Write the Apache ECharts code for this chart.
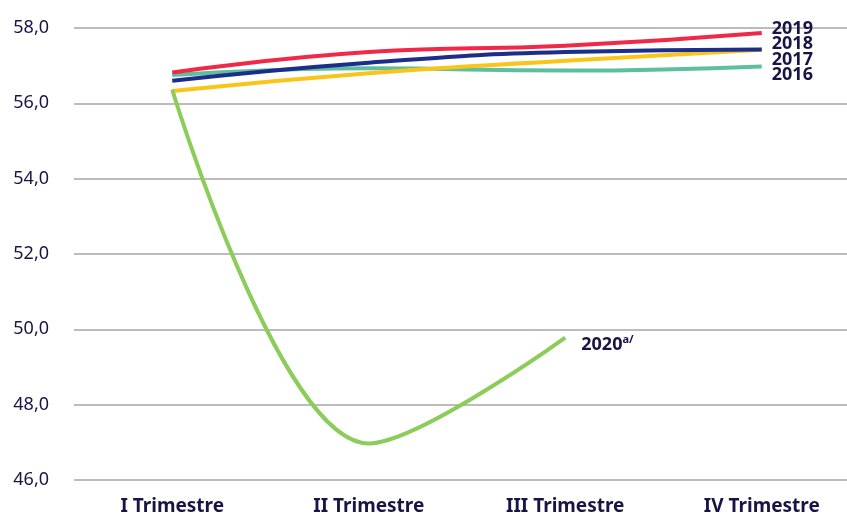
<!DOCTYPE html>
<html>
<head>
<meta charset="utf-8">
<script src="https://cdn.jsdelivr.net/npm/echarts@6/dist/echarts.min.js"></script>
<style>html,body{margin:0;padding:0;background:#fff;overflow:hidden}#c{width:860px;height:516px}</style>
</head>
<body>
<div id="c"></div>
<script>
const categories = ['I Trimestre', 'II Trimestre', 'III Trimestre', 'IV Trimestre'];
const s2016 = [56.75, 56.93, 56.87, 56.98];
const s2017 = [56.33, 56.80, 57.13, 57.42];
const s2018 = [56.60, 57.08, 57.36, 57.43];
const s2019 = [56.82, 57.36, 57.53, 57.87];
const s2020 = [56.36, 46.97, 49.78];
const yTicks = { min: 46, max: 58, interval: 2 };

const txt = '#1a1446';
const font = 'Noto Sans';
function mk(name, data, color, offset, label, smooth) {
  return {
    name: name, type: 'line', data: data, smooth: smooth, symbol: 'none',
    lineStyle: { color: color, width: 4 },
    itemStyle: { color: color },
    endLabel: {
      show: true, formatter: label, color: txt, fontFamily: font,
      fontWeight: 'bold', fontSize: 18, offset: offset, distance: 5,
      rich: { sup: { fontSize: 11, fontWeight: 'bold', color: txt, fontFamily: font, verticalAlign: 'top', padding: [0,0,9,0] },
              b: { fontSize: 18, fontWeight: 'bold', color: txt, fontFamily: font } }
    },
    z: 2
  };
}
const chart = echarts.init(document.getElementById('c'));
chart.setOption({
  animation: false,
  grid: { left: 74, right: 0, top: 28, bottom: 35 },
  xAxis: {
    type: 'category', data: categories, boundaryGap: true,
    axisLine: { show: false }, axisTick: { show: false },
    axisLabel: { color: txt, fontFamily: font, fontWeight: 'bold', fontSize: 19, margin: 17 }
  },
  yAxis: {
    type: 'value', min: yTicks.min, max: yTicks.max, interval: yTicks.interval,
    axisLine: { show: false }, axisTick: { show: false },
    splitLine: { lineStyle: { color: '#a6a6a6', width: 1.5 } },
    axisLabel: { color: txt, fontFamily: font, fontSize: 18, margin: 25,
      formatter: v => v.toFixed(1).replace('.', ',') }
  },
  series: [
    mk('2016', s2016, '#5dbf9f', [5, 8], '2016', 0.5),
    mk('2017', s2017, '#f9c51b', [5, 10], '2017', 0.5),
    mk('2018', s2018, '#1a2e8a', [5, -6], '2018', 0.5),
    mk('2019', s2019, '#ee2a48', [5, -4], '2019', 0.5),
    mk('2020', s2020, '#8ccc5a', [11, 7], '{b|2020}{sup|a/}', 0.35)
  ]
});
</script>
</body>
</html>
